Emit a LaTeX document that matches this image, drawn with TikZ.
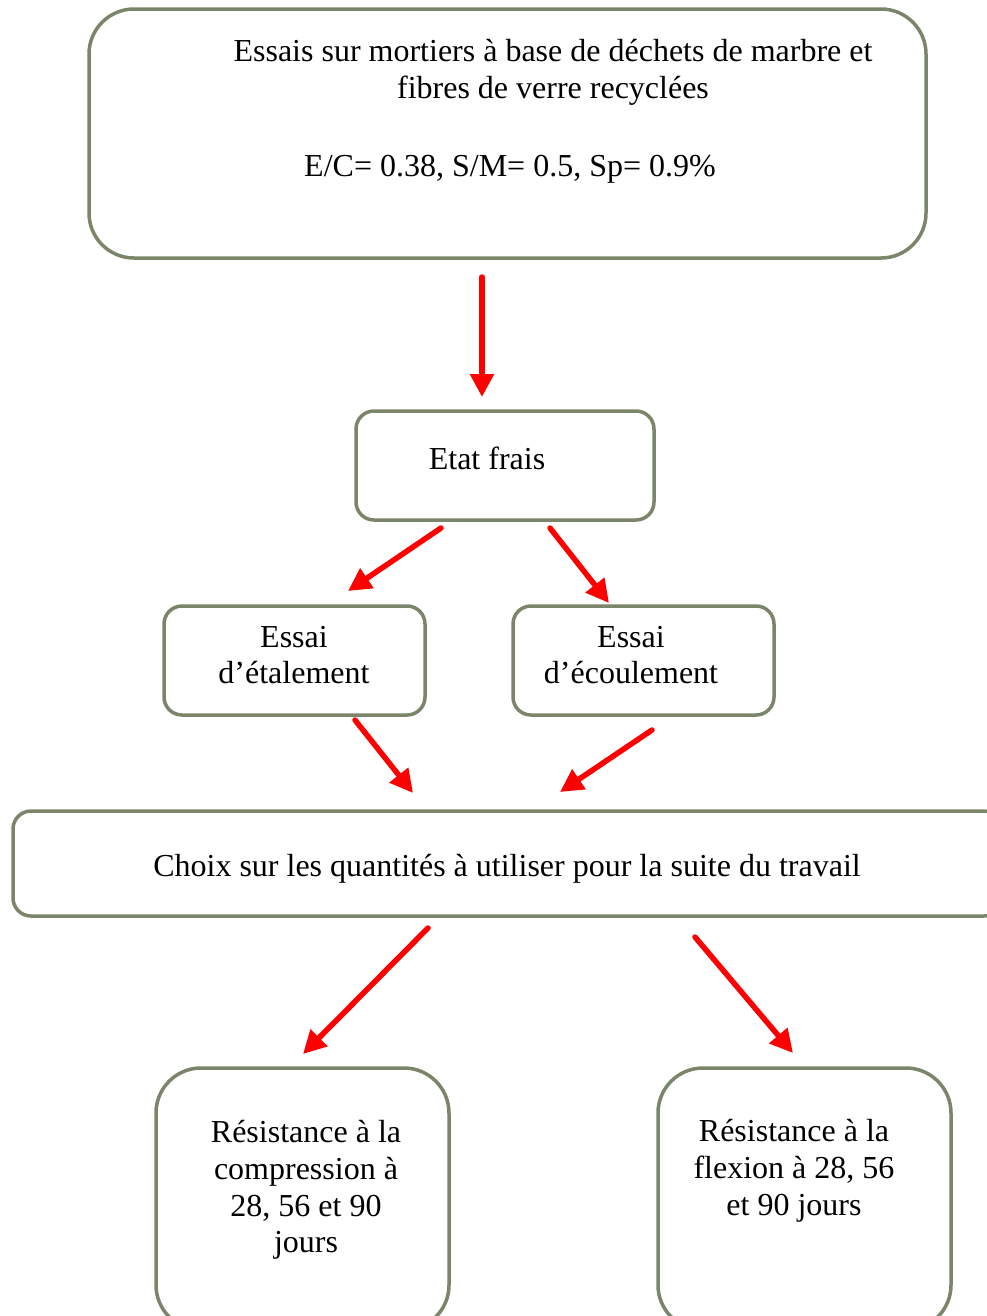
\documentclass[tikz,border=0pt]{standalone}
\usepackage{fontspec}
\setmainfont{Liberation Serif}
\usetikzlibrary{arrows.meta}
\newcommand{\pxu}{0.375pt}
\definecolor{boxgreen}{HTML}{7A8569}
\definecolor{arrowred}{HTML}{FF0000}
\begin{document}
\begin{tikzpicture}
[x=\pxu,y=-\pxu,%
  box/.style={draw=boxgreen,line width=3.5*\pxu,rounded corners=18*\pxu,inner sep=0pt},%
  bigbox/.style={box,rounded corners=45*\pxu},%
  txt/.style={align=center,inner sep=0pt},%
  flow/.style={draw=arrowred,line width=5.5*\pxu,line cap=round,-{Triangle[length=8.6pt,width=8.6pt]}}]
\fontsize{12}{13.8}\selectfont
\useasboundingbox (0,0) rectangle (987,1316);
\clip (0,0) rectangle (987,1316);
% boxes
\node[bigbox,minimum width=837*\pxu,minimum height=249*\pxu] (essais) at (507.5,133.5) {};
\node[box,minimum width=298*\pxu,minimum height=109*\pxu] (frais) at (505,465.5) {};
\node[box,minimum width=261*\pxu,minimum height=109*\pxu] (etal) at (294.5,660.5) {};
\node[box,minimum width=261*\pxu,minimum height=109*\pxu] (ecoul) at (643.5,660.5) {};
\node[box,minimum width=989*\pxu,minimum height=105*\pxu] (choix) at (507.5,863.5) {};
\node[bigbox,minimum width=293*\pxu,minimum height=262*\pxu] (compr) at (302.5,1199) {};
\node[bigbox,minimum width=293*\pxu,minimum height=262*\pxu] (flex) at (804.5,1199) {};
% texts
\node[txt] (essaistxt) at (553,72) {Essais sur mortiers à base de déchets de marbre et\\fibres de verre recyclées};
\node[txt] (params) at (510,169) {E/C= 0.38, S/M= 0.5, Sp= 0.9\%};
\node[txt] (fraistxt) at (487,458) {Etat frais};
\node[txt] (etaltxt) at (294,655) {Essai\\d’étalement};
\node[txt] (ecoultxt) at (631,655) {Essai\\d’écoulement};
\node[txt] (choixtxt) at (507,869) {Choix sur les quantités à utiliser pour la suite du travail};
\node[txt] (comprtxt) at (306,1190) {Résistance à la\\compression à\\28, 56 et 90\\jours};
\node[txt] (flextxt) at (794,1171) {Résistance à la\\flexion à 28, 56\\et 90 jours};
% arrow ends
\coordinate (a1) at (482,277);  \coordinate (b1) at (482,397);
\coordinate (a2) at (441,528);  \coordinate (b2) at (348,591);
\coordinate (a3) at (550,528);  \coordinate (b3) at (609,603);
\coordinate (a4) at (355,720);  \coordinate (b4) at (413,793);
\coordinate (a5) at (652,730);  \coordinate (b5) at (560,792);
\coordinate (a6) at (428,928);  \coordinate (b6) at (303,1054);
\coordinate (a7) at (695,937);  \coordinate (b7) at (793,1053);
\foreach \i in {1,...,7}
  \draw[flow] (a\i) -- (b\i);
\end{tikzpicture}
\end{document}
